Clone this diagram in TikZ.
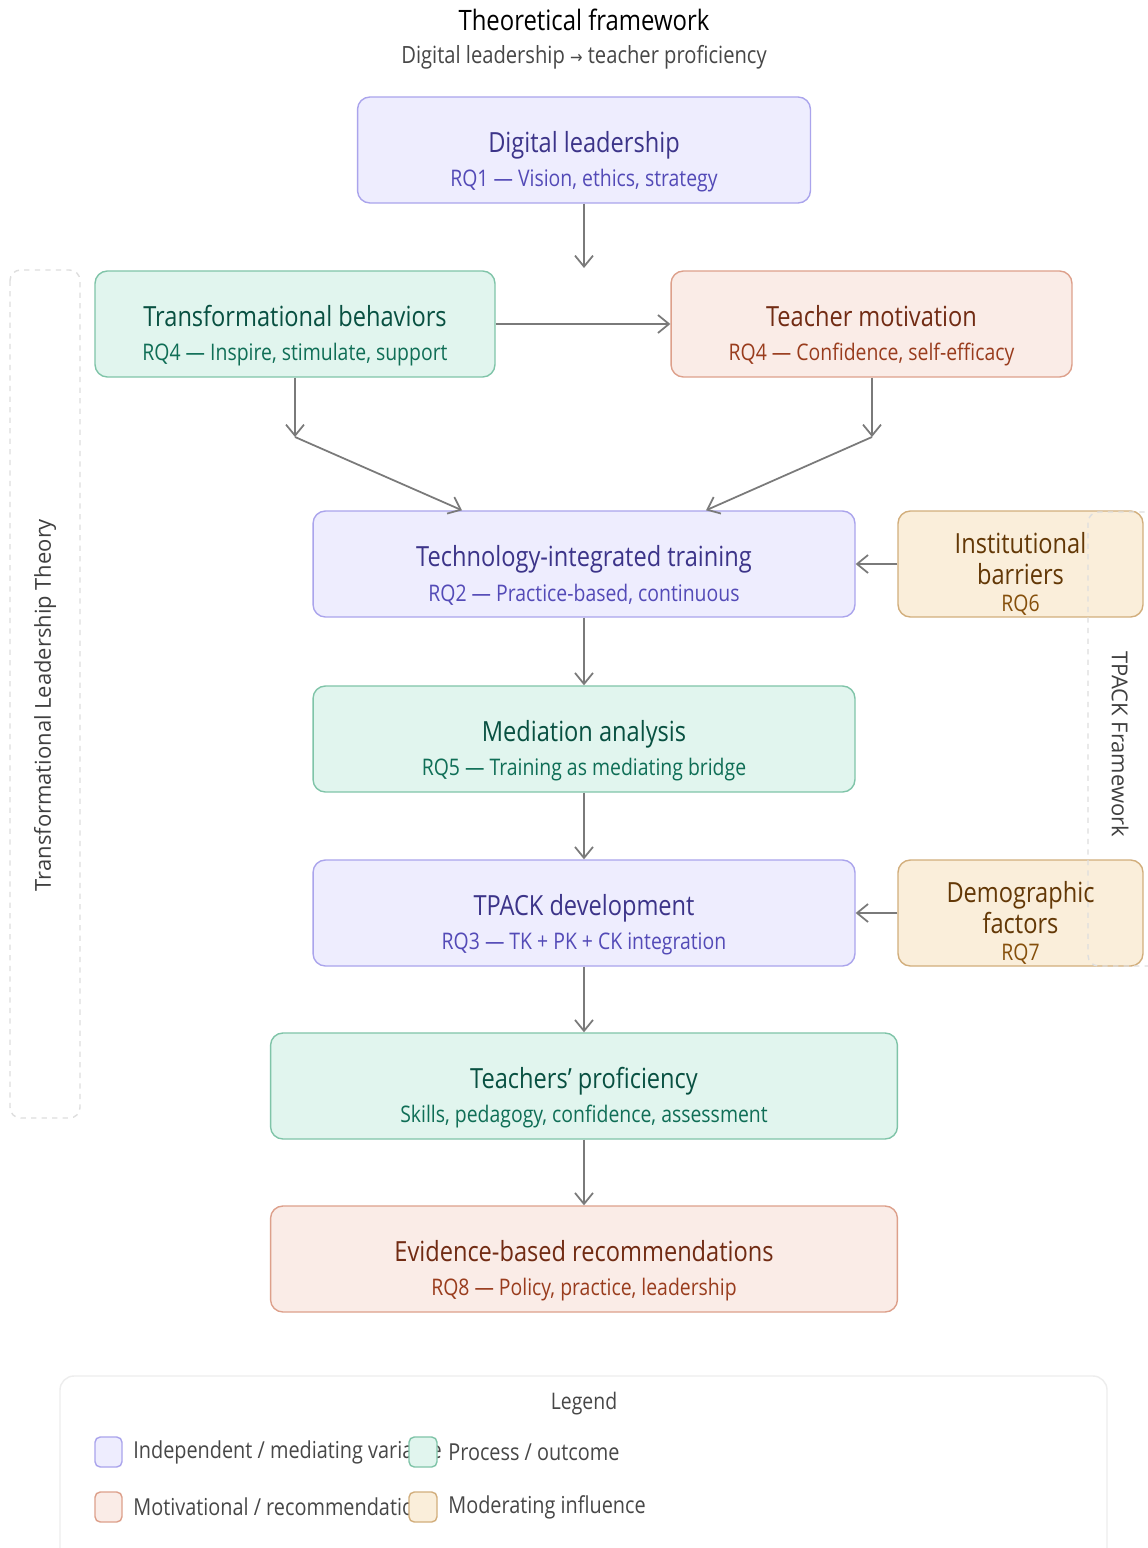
\documentclass[tikz,border=0pt]{standalone}
\usepackage{fontspec}
\setmainfont[FakeStretch=0.85]{Open Sans}
\newfontfamily\sidefont{Open Sans}
\newfontfamily\arrowfont[FakeStretch=0.85]{DejaVu Sans}
\usetikzlibrary{arrows.meta}

\definecolor{purfill}{HTML}{EEEDFE}
\definecolor{purline}{HTML}{AAA4EC}
\definecolor{purhead}{HTML}{3C3489}
\definecolor{pursub}{HTML}{534AB7}
\definecolor{grnfill}{HTML}{E1F5EE}
\definecolor{grnline}{HTML}{7FC4A8}
\definecolor{grnhead}{HTML}{085041}
\definecolor{grnsub}{HTML}{0F6E56}
\definecolor{corfill}{HTML}{FAECE7}
\definecolor{corline}{HTML}{DDA08B}
\definecolor{corhead}{HTML}{712B13}
\definecolor{corsub}{HTML}{993C1D}
\definecolor{ambfill}{HTML}{FAEEDA}
\definecolor{ambline}{HTML}{D2AE7C}
\definecolor{ambhead}{HTML}{633806}
\definecolor{ambsub}{HTML}{854F0B}
\definecolor{edgegray}{HTML}{7A7A7A}

\newcommand{\headsize}{\fontsize{15.8}{18}\selectfont}
\newcommand{\subsize}{\fontsize{13}{15}\selectfont}
% title line and RQ line of a box
\newcommand{\boxtext}[3]{\rule{0pt}{25pt}#1\\[1.5pt]{\subsize\color{#2}#3}}

\tikzset{
	box/.style = {rounded corners = 7pt, line width = 0.8pt, align = center, minimum height = 2.12cm, inner sep = 2pt, font = \headsize},
	purbox/.style = {box, draw = purline, fill = purfill, text = purhead},
	grnbox/.style = {box, draw = grnline, fill = grnfill, text = grnhead},
	corbox/.style = {box, draw = corline, fill = corfill, text = corhead},
	ambbox/.style = {box, draw = ambline, fill = ambfill, text = ambhead, minimum width = 4.9cm, inner ysep = 0pt},
	link/.style = {->, edgegray, line width = 1pt},
	swatch/.style = {rounded corners = 3pt, line width = 0.8pt},
	legtext/.style = {anchor = west, text = black!72, inner sep = 0pt, font = \fontsize{13.3}{15}\selectfont},
	frame/.style = {rounded corners = 6pt, dashed, black!13, line width = 0.8pt}
}

\begin{document}
\begin{tikzpicture}[x = 0.02cm, y = -0.02cm, >={Straight Barb[length=2.2mm, width=3.6mm]}]
	\useasboundingbox[fill = white] (0, 0) rectangle (1148, 1548);
	\clip (0, 0) rectangle (1148, 1548);

	% header
	\node (title) at (584, 20) {\fontsize{16}{18}\selectfont Theoretical framework};
	\node[text = black!72] (subtitle) at (584, 57) {\fontsize{13.5}{15}\selectfont Digital leadership {\arrowfont\fontsize{10}{12}\selectfont →} teacher proficiency};

	% theory frames
	\draw[frame] (10, 270) rectangle (80, 1118);
	\node[rotate = 90, text = black!75] (tlt) at (45, 705) {\sidefont\fontsize{12.5}{14}\selectfont Transformational Leadership Theory};
	\node[rotate = -90, text = black!75] (tpf) at (1120, 744) {\sidefont\fontsize{12.5}{14}\selectfont TPACK Framework};

	% boxes
	\node[purbox, minimum width = 9.06cm] (lead) at (584, 150) {\boxtext{Digital leadership}{pursub}{RQ1 — Vision, ethics, strategy}};
	\node[grnbox, minimum width = 8.0cm] (trans) at (295, 324) {\boxtext{Transformational behaviors}{grnsub}{RQ4 — Inspire, stimulate, support}};
	\node[corbox, minimum width = 8.02cm] (motiv) at (871.5, 324) {\boxtext{Teacher motivation}{corsub}{RQ4 — Confidence, self-efficacy}};
	\node[purbox, minimum width = 10.84cm] (train) at (584, 564) {\boxtext{Technology-integrated training}{pursub}{RQ2 — Practice-based, continuous}};
	\node[ambbox] (barr) at (1020.5, 564) {\rule{0pt}{23pt}Institutional\\barriers\\[-3pt]{\subsize\color{ambsub}RQ6}};
	\node[grnbox, minimum width = 10.84cm] (medi) at (584, 739) {\boxtext{Mediation analysis}{grnsub}{RQ5 — Training as mediating bridge}};
	\node[purbox, minimum width = 10.84cm] (tpack) at (584, 913) {\boxtext{TPACK development}{pursub}{RQ3 — TK + PK + CK integration}};
	\node[ambbox] (demo) at (1020.5, 913) {\rule{0pt}{23pt}Demographic\\factors\\[-3pt]{\subsize\color{ambsub}RQ7}};
	\node[grnbox, minimum width = 12.54cm] (prof) at (584, 1086) {\boxtext{Teachers' proficiency}{grnsub}{Skills, pedagogy, confidence, assessment}};
	\node[corbox, minimum width = 12.54cm] (recom) at (584, 1259) {\boxtext{Evidence-based recommendations}{corsub}{RQ8 — Policy, practice, leadership}};

	\draw[frame] (1088, 512) rectangle (1170, 966);

	% connectors
	\coordinate (gap) at (584, 268);
	\coordinate (bendl) at (295, 437);
	\coordinate (bendr) at (872, 437);
	\draw[link] (lead) -- (gap);
	\draw[link] (trans) -- (motiv);
	\draw[link] (trans) -- (bendl);
	\draw[link] (bendl) -- ([xshift = -2.44cm]train.north);
	\draw[link] (motiv.south -| bendr) -- (bendr);
	\draw[link] (bendr) -- ([xshift = 2.44cm]train.north);
	\draw[link] (barr) -- (train);
	\draw[link] (train) -- (medi);
	\draw[link] (medi) -- (tpack);
	\draw[link] (demo) -- (tpack);
	\draw[link] (tpack) -- (prof);
	\draw[link] (prof) -- (recom);

	% legend
	\draw[rounded corners = 8pt, black!7, line width = 0.8pt] (60, 1376) rectangle (1107, 1570);
	\node[text = black!72] (legtitle) at (584, 1404) {\fontsize{13}{15}\selectfont Legend};
	\node[legtext] (leg1) at (133, 1452) {Independent / mediating variable};
	\node[legtext] (leg3) at (133, 1507) {Motivational / recommendation};
	\draw[swatch, draw = purline, fill = purfill] (95, 1437) rectangle (122, 1467);
	\draw[swatch, draw = corline, fill = corfill] (95, 1492) rectangle (122, 1522);
	\draw[swatch, draw = grnline, fill = grnfill] (409, 1437) rectangle (437, 1467);
	\draw[swatch, draw = ambline, fill = ambfill] (409, 1492) rectangle (437, 1522);
	\node[legtext] (leg2) at (448, 1452) {Process / outcome};
	\node[legtext] (leg4) at (448, 1507) {Moderating influence};
\end{tikzpicture}
\end{document}
